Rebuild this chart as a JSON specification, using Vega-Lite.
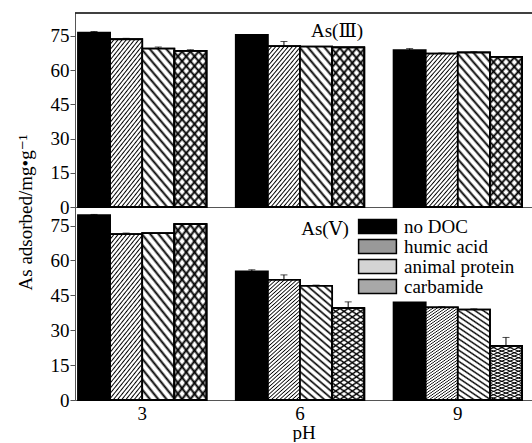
{
  "$schema": "https://vega.github.io/schema/vega-lite/v6.json",
  "padding": {"left": 16, "top": 12, "right": 0, "bottom": 0},
  "params": [
    {"name": "gH", "value": {"gradient": "linear", "x1": 0, "y1": 0, "x2": 0.281, "y2": 1.172, "stops": [
      {"offset": 0, "color": "#000"}, {"offset": 0.0075, "color": "#fff"}, {"offset": 0.0175, "color": "#fff"},
      {"offset": 0.025, "color": "#000"}, {"offset": 0.0325, "color": "#fff"}, {"offset": 0.0425, "color": "#fff"},
      {"offset": 0.05, "color": "#000"}, {"offset": 0.0575, "color": "#fff"}, {"offset": 0.0675, "color": "#fff"},
      {"offset": 0.075, "color": "#000"}, {"offset": 0.0825, "color": "#fff"}, {"offset": 0.0925, "color": "#fff"},
      {"offset": 0.1, "color": "#000"}, {"offset": 0.1075, "color": "#fff"}, {"offset": 0.1175, "color": "#fff"},
      {"offset": 0.125, "color": "#000"}, {"offset": 0.1325, "color": "#fff"}, {"offset": 0.1425, "color": "#fff"},
      {"offset": 0.15, "color": "#000"}, {"offset": 0.1575, "color": "#fff"}, {"offset": 0.1675, "color": "#fff"},
      {"offset": 0.175, "color": "#000"}, {"offset": 0.1825, "color": "#fff"}, {"offset": 0.1925, "color": "#fff"},
      {"offset": 0.2, "color": "#000"}, {"offset": 0.2075, "color": "#fff"}, {"offset": 0.2175, "color": "#fff"},
      {"offset": 0.225, "color": "#000"}, {"offset": 0.2325, "color": "#fff"}, {"offset": 0.2425, "color": "#fff"},
      {"offset": 0.25, "color": "#000"}, {"offset": 0.2575, "color": "#fff"}, {"offset": 0.2675, "color": "#fff"},
      {"offset": 0.275, "color": "#000"}, {"offset": 0.2825, "color": "#fff"}, {"offset": 0.2925, "color": "#fff"},
      {"offset": 0.3, "color": "#000"}, {"offset": 0.3075, "color": "#fff"}, {"offset": 0.3175, "color": "#fff"},
      {"offset": 0.325, "color": "#000"}, {"offset": 0.3325, "color": "#fff"}, {"offset": 0.3425, "color": "#fff"},
      {"offset": 0.35, "color": "#000"}, {"offset": 0.3575, "color": "#fff"}, {"offset": 0.3675, "color": "#fff"},
      {"offset": 0.375, "color": "#000"}, {"offset": 0.3825, "color": "#fff"}, {"offset": 0.3925, "color": "#fff"},
      {"offset": 0.4, "color": "#000"}, {"offset": 0.4075, "color": "#fff"}, {"offset": 0.4175, "color": "#fff"},
      {"offset": 0.425, "color": "#000"}, {"offset": 0.4325, "color": "#fff"}, {"offset": 0.4425, "color": "#fff"},
      {"offset": 0.45, "color": "#000"}, {"offset": 0.4575, "color": "#fff"}, {"offset": 0.4675, "color": "#fff"},
      {"offset": 0.475, "color": "#000"}, {"offset": 0.4825, "color": "#fff"}, {"offset": 0.4925, "color": "#fff"},
      {"offset": 0.5, "color": "#000"}, {"offset": 0.5075, "color": "#fff"}, {"offset": 0.5175, "color": "#fff"},
      {"offset": 0.525, "color": "#000"}, {"offset": 0.5325, "color": "#fff"}, {"offset": 0.5425, "color": "#fff"},
      {"offset": 0.55, "color": "#000"}, {"offset": 0.5575, "color": "#fff"}, {"offset": 0.5675, "color": "#fff"},
      {"offset": 0.575, "color": "#000"}, {"offset": 0.5825, "color": "#fff"}, {"offset": 0.5925, "color": "#fff"},
      {"offset": 0.6, "color": "#000"}, {"offset": 0.6075, "color": "#fff"}, {"offset": 0.6175, "color": "#fff"},
      {"offset": 0.625, "color": "#000"}, {"offset": 0.6325, "color": "#fff"}, {"offset": 0.6425, "color": "#fff"},
      {"offset": 0.65, "color": "#000"}, {"offset": 0.6575, "color": "#fff"}, {"offset": 0.6675, "color": "#fff"},
      {"offset": 0.675, "color": "#000"}, {"offset": 0.6825, "color": "#fff"}, {"offset": 0.6925, "color": "#fff"},
      {"offset": 0.7, "color": "#000"}, {"offset": 0.7075, "color": "#fff"}, {"offset": 0.7175, "color": "#fff"},
      {"offset": 0.725, "color": "#000"}, {"offset": 0.7325, "color": "#fff"}, {"offset": 0.7425, "color": "#fff"},
      {"offset": 0.75, "color": "#000"}, {"offset": 0.7575, "color": "#fff"}, {"offset": 0.7675, "color": "#fff"},
      {"offset": 0.775, "color": "#000"}, {"offset": 0.7825, "color": "#fff"}, {"offset": 0.7925, "color": "#fff"},
      {"offset": 0.8, "color": "#000"}, {"offset": 0.8075, "color": "#fff"}, {"offset": 0.8175, "color": "#fff"},
      {"offset": 0.825, "color": "#000"}, {"offset": 0.8325, "color": "#fff"}, {"offset": 0.8425, "color": "#fff"},
      {"offset": 0.85, "color": "#000"}, {"offset": 0.8575, "color": "#fff"}, {"offset": 0.8675, "color": "#fff"},
      {"offset": 0.875, "color": "#000"}, {"offset": 0.8825, "color": "#fff"}, {"offset": 0.8925, "color": "#fff"},
      {"offset": 0.9, "color": "#000"}, {"offset": 0.9075, "color": "#fff"}, {"offset": 0.9175, "color": "#fff"},
      {"offset": 0.925, "color": "#000"}, {"offset": 0.9325, "color": "#fff"}, {"offset": 0.9425, "color": "#fff"},
      {"offset": 0.95, "color": "#000"}, {"offset": 0.9575, "color": "#fff"}, {"offset": 0.9675, "color": "#fff"},
      {"offset": 0.975, "color": "#000"}, {"offset": 0.9825, "color": "#fff"}, {"offset": 0.9925, "color": "#fff"},
      {"offset": 1, "color": "#000"}
    ]}},
    {"name": "gB", "value": {"gradient": "linear", "x1": 1, "y1": 0, "x2": 0.719, "y2": 1.172, "stops": [
      {"offset": 0, "color": "#000"}, {"offset": 0.015, "color": "#fff"}, {"offset": 0.035, "color": "#fff"},
      {"offset": 0.05, "color": "#000"}, {"offset": 0.065, "color": "#fff"}, {"offset": 0.085, "color": "#fff"},
      {"offset": 0.1, "color": "#000"}, {"offset": 0.115, "color": "#fff"}, {"offset": 0.135, "color": "#fff"},
      {"offset": 0.15, "color": "#000"}, {"offset": 0.165, "color": "#fff"}, {"offset": 0.185, "color": "#fff"},
      {"offset": 0.2, "color": "#000"}, {"offset": 0.215, "color": "#fff"}, {"offset": 0.235, "color": "#fff"},
      {"offset": 0.25, "color": "#000"}, {"offset": 0.265, "color": "#fff"}, {"offset": 0.285, "color": "#fff"},
      {"offset": 0.3, "color": "#000"}, {"offset": 0.315, "color": "#fff"}, {"offset": 0.335, "color": "#fff"},
      {"offset": 0.35, "color": "#000"}, {"offset": 0.365, "color": "#fff"}, {"offset": 0.385, "color": "#fff"},
      {"offset": 0.4, "color": "#000"}, {"offset": 0.415, "color": "#fff"}, {"offset": 0.435, "color": "#fff"},
      {"offset": 0.45, "color": "#000"}, {"offset": 0.465, "color": "#fff"}, {"offset": 0.485, "color": "#fff"},
      {"offset": 0.5, "color": "#000"}, {"offset": 0.515, "color": "#fff"}, {"offset": 0.535, "color": "#fff"},
      {"offset": 0.55, "color": "#000"}, {"offset": 0.565, "color": "#fff"}, {"offset": 0.585, "color": "#fff"},
      {"offset": 0.6, "color": "#000"}, {"offset": 0.615, "color": "#fff"}, {"offset": 0.635, "color": "#fff"},
      {"offset": 0.65, "color": "#000"}, {"offset": 0.665, "color": "#fff"}, {"offset": 0.685, "color": "#fff"},
      {"offset": 0.7, "color": "#000"}, {"offset": 0.715, "color": "#fff"}, {"offset": 0.735, "color": "#fff"},
      {"offset": 0.75, "color": "#000"}, {"offset": 0.765, "color": "#fff"}, {"offset": 0.785, "color": "#fff"},
      {"offset": 0.8, "color": "#000"}, {"offset": 0.815, "color": "#fff"}, {"offset": 0.835, "color": "#fff"},
      {"offset": 0.85, "color": "#000"}, {"offset": 0.865, "color": "#fff"}, {"offset": 0.885, "color": "#fff"},
      {"offset": 0.9, "color": "#000"}, {"offset": 0.915, "color": "#fff"}, {"offset": 0.935, "color": "#fff"},
      {"offset": 0.95, "color": "#000"}, {"offset": 0.965, "color": "#fff"}, {"offset": 0.985, "color": "#fff"},
      {"offset": 1, "color": "#000"}
    ]}},
    {"name": "gX", "value": {"gradient": "linear", "x1": 0, "y1": 0, "x2": 0.281, "y2": 1.172, "stops": [
      {"offset": 0, "color": "rgba(0,0,0,1)"}, {"offset": 0.015, "color": "rgba(0,0,0,0)"}, {"offset": 0.035, "color": "rgba(0,0,0,0)"},
      {"offset": 0.05, "color": "rgba(0,0,0,1)"}, {"offset": 0.065, "color": "rgba(0,0,0,0)"}, {"offset": 0.085, "color": "rgba(0,0,0,0)"},
      {"offset": 0.1, "color": "rgba(0,0,0,1)"}, {"offset": 0.115, "color": "rgba(0,0,0,0)"}, {"offset": 0.135, "color": "rgba(0,0,0,0)"},
      {"offset": 0.15, "color": "rgba(0,0,0,1)"}, {"offset": 0.165, "color": "rgba(0,0,0,0)"}, {"offset": 0.185, "color": "rgba(0,0,0,0)"},
      {"offset": 0.2, "color": "rgba(0,0,0,1)"}, {"offset": 0.215, "color": "rgba(0,0,0,0)"}, {"offset": 0.235, "color": "rgba(0,0,0,0)"},
      {"offset": 0.25, "color": "rgba(0,0,0,1)"}, {"offset": 0.265, "color": "rgba(0,0,0,0)"}, {"offset": 0.285, "color": "rgba(0,0,0,0)"},
      {"offset": 0.3, "color": "rgba(0,0,0,1)"}, {"offset": 0.315, "color": "rgba(0,0,0,0)"}, {"offset": 0.335, "color": "rgba(0,0,0,0)"},
      {"offset": 0.35, "color": "rgba(0,0,0,1)"}, {"offset": 0.365, "color": "rgba(0,0,0,0)"}, {"offset": 0.385, "color": "rgba(0,0,0,0)"},
      {"offset": 0.4, "color": "rgba(0,0,0,1)"}, {"offset": 0.415, "color": "rgba(0,0,0,0)"}, {"offset": 0.435, "color": "rgba(0,0,0,0)"},
      {"offset": 0.45, "color": "rgba(0,0,0,1)"}, {"offset": 0.465, "color": "rgba(0,0,0,0)"}, {"offset": 0.485, "color": "rgba(0,0,0,0)"},
      {"offset": 0.5, "color": "rgba(0,0,0,1)"}, {"offset": 0.515, "color": "rgba(0,0,0,0)"}, {"offset": 0.535, "color": "rgba(0,0,0,0)"},
      {"offset": 0.55, "color": "rgba(0,0,0,1)"}, {"offset": 0.565, "color": "rgba(0,0,0,0)"}, {"offset": 0.585, "color": "rgba(0,0,0,0)"},
      {"offset": 0.6, "color": "rgba(0,0,0,1)"}, {"offset": 0.615, "color": "rgba(0,0,0,0)"}, {"offset": 0.635, "color": "rgba(0,0,0,0)"},
      {"offset": 0.65, "color": "rgba(0,0,0,1)"}, {"offset": 0.665, "color": "rgba(0,0,0,0)"}, {"offset": 0.685, "color": "rgba(0,0,0,0)"},
      {"offset": 0.7, "color": "rgba(0,0,0,1)"}, {"offset": 0.715, "color": "rgba(0,0,0,0)"}, {"offset": 0.735, "color": "rgba(0,0,0,0)"},
      {"offset": 0.75, "color": "rgba(0,0,0,1)"}, {"offset": 0.765, "color": "rgba(0,0,0,0)"}, {"offset": 0.785, "color": "rgba(0,0,0,0)"},
      {"offset": 0.8, "color": "rgba(0,0,0,1)"}, {"offset": 0.815, "color": "rgba(0,0,0,0)"}, {"offset": 0.835, "color": "rgba(0,0,0,0)"},
      {"offset": 0.85, "color": "rgba(0,0,0,1)"}, {"offset": 0.865, "color": "rgba(0,0,0,0)"}, {"offset": 0.885, "color": "rgba(0,0,0,0)"},
      {"offset": 0.9, "color": "rgba(0,0,0,1)"}, {"offset": 0.915, "color": "rgba(0,0,0,0)"}, {"offset": 0.935, "color": "rgba(0,0,0,0)"},
      {"offset": 0.95, "color": "rgba(0,0,0,1)"}, {"offset": 0.965, "color": "rgba(0,0,0,0)"}, {"offset": 0.985, "color": "rgba(0,0,0,0)"},
      {"offset": 1, "color": "rgba(0,0,0,1)"}
    ]}},
    {"name": "lgH", "value": {"gradient": "linear", "x1": 0, "y1": 0, "x2": 1.205, "y2": 0.446, "stops": [
      {"offset": 0, "color": "#000"}, {"offset": 0.03, "color": "#fff"}, {"offset": 0.07, "color": "#fff"},
      {"offset": 0.1, "color": "#000"}, {"offset": 0.13, "color": "#fff"}, {"offset": 0.17, "color": "#fff"},
      {"offset": 0.2, "color": "#000"}, {"offset": 0.23, "color": "#fff"}, {"offset": 0.27, "color": "#fff"},
      {"offset": 0.3, "color": "#000"}, {"offset": 0.33, "color": "#fff"}, {"offset": 0.37, "color": "#fff"},
      {"offset": 0.4, "color": "#000"}, {"offset": 0.43, "color": "#fff"}, {"offset": 0.47, "color": "#fff"},
      {"offset": 0.5, "color": "#000"}, {"offset": 0.53, "color": "#fff"}, {"offset": 0.57, "color": "#fff"},
      {"offset": 0.6, "color": "#000"}, {"offset": 0.63, "color": "#fff"}, {"offset": 0.67, "color": "#fff"},
      {"offset": 0.7, "color": "#000"}, {"offset": 0.73, "color": "#fff"}, {"offset": 0.77, "color": "#fff"},
      {"offset": 0.8, "color": "#000"}, {"offset": 0.83, "color": "#fff"}, {"offset": 0.87, "color": "#fff"},
      {"offset": 0.9, "color": "#000"}, {"offset": 0.93, "color": "#fff"}, {"offset": 0.97, "color": "#fff"},
      {"offset": 1, "color": "#000"}
    ]}},
    {"name": "lgB", "value": {"gradient": "linear", "x1": 1, "y1": 0, "x2": -0.205, "y2": 0.446, "stops": [
      {"offset": 0, "color": "#000"}, {"offset": 0.06, "color": "#fff"}, {"offset": 0.14, "color": "#fff"},
      {"offset": 0.2, "color": "#000"}, {"offset": 0.26, "color": "#fff"}, {"offset": 0.34, "color": "#fff"},
      {"offset": 0.4, "color": "#000"}, {"offset": 0.46, "color": "#fff"}, {"offset": 0.54, "color": "#fff"},
      {"offset": 0.6, "color": "#000"}, {"offset": 0.66, "color": "#fff"}, {"offset": 0.74, "color": "#fff"},
      {"offset": 0.8, "color": "#000"}, {"offset": 0.86, "color": "#fff"}, {"offset": 0.94, "color": "#fff"},
      {"offset": 1, "color": "#000"}
    ]}}
  ],
  "config": {
    "font": "Times New Roman, Liberation Serif, DejaVu Serif, serif",
    "view": {"stroke": null},
    "axis": {"labelColor": "black", "titleColor": "black", "domainColor": "#555", "tickColor": "#555", "grid": false, "labelFontSize": 19, "titleFontSize": 19, "titleFontWeight": "normal", "labelOverlap": false}
  },
  "bounds": "flush",
  "spacing": 0,
  "datasets": {
    "d": [
      {"panel": "III", "pH": "3", "DOC": "no DOC", "v": 76.4, "hi": 76.9},
      {"panel": "III", "pH": "3", "DOC": "humic acid", "v": 73.5, "hi": 73.9},
      {"panel": "III", "pH": "3", "DOC": "animal protein", "v": 69.4, "hi": 70.1},
      {"panel": "III", "pH": "3", "DOC": "carbamide", "v": 68.4, "hi": 68.9},
      {"panel": "III", "pH": "6", "DOC": "no DOC", "v": 75.4, "hi": null},
      {"panel": "III", "pH": "6", "DOC": "humic acid", "v": 70.5, "hi": 72.5},
      {"panel": "III", "pH": "6", "DOC": "animal protein", "v": 70.3, "hi": null},
      {"panel": "III", "pH": "6", "DOC": "carbamide", "v": 69.9, "hi": null},
      {"panel": "III", "pH": "9", "DOC": "no DOC", "v": 68.7, "hi": 69.4},
      {"panel": "III", "pH": "9", "DOC": "humic acid", "v": 67.2, "hi": 67.5},
      {"panel": "III", "pH": "9", "DOC": "animal protein", "v": 67.7, "hi": 68.0},
      {"panel": "III", "pH": "9", "DOC": "carbamide", "v": 65.8, "hi": null},
      {"panel": "V", "pH": "3", "DOC": "no DOC", "v": 79.5, "hi": 79.8},
      {"panel": "V", "pH": "3", "DOC": "humic acid", "v": 71.3, "hi": 71.8},
      {"panel": "V", "pH": "3", "DOC": "animal protein", "v": 71.8, "hi": null},
      {"panel": "V", "pH": "3", "DOC": "carbamide", "v": 75.6, "hi": null},
      {"panel": "V", "pH": "6", "DOC": "no DOC", "v": 55.3, "hi": 56.0},
      {"panel": "V", "pH": "6", "DOC": "humic acid", "v": 51.7, "hi": 53.8},
      {"panel": "V", "pH": "6", "DOC": "animal protein", "v": 49.1, "hi": 49.4},
      {"panel": "V", "pH": "6", "DOC": "carbamide", "v": 39.5, "hi": 42.2},
      {"panel": "V", "pH": "9", "DOC": "no DOC", "v": 42.0, "hi": null},
      {"panel": "V", "pH": "9", "DOC": "humic acid", "v": 39.8, "hi": 40.1},
      {"panel": "V", "pH": "9", "DOC": "animal protein", "v": 38.9, "hi": 39.2},
      {"panel": "V", "pH": "9", "DOC": "carbamide", "v": 23.3, "hi": 26.9}
    ]
  },
  "vconcat": [
    {
      "width": 457,
      "height": 194,
      "data": {"name": "d"},
      "transform": [{"filter": "datum.panel === 'III'"}],
      "resolve": {"axis": {"y": "independent"}},
      "layer": [
        {
          "mark": {"type": "bar", "stroke": "black", "strokeWidth": 1.8},
          "encoding": {
            "x": {"field": "pH", "type": "nominal", "scale": {"type": "band", "paddingInner": 0.186, "paddingOuter": 0.041, "align": 0.23}, "axis": {"labels": false, "ticks": false, "title": null}},
            "xOffset": {"field": "DOC", "type": "nominal", "sort": ["no DOC", "humic acid", "animal protein", "carbamide"], "scale": {"paddingInner": 0, "paddingOuter": 0}},
            "y": {"field": "v", "type": "quantitative", "scale": {"domain": [0, 85], "nice": false}, "axis": {"values": [0, 15, 30, 45, 60, 75], "labelOverlap": false, "tickSize": 5, "labelPadding": 1, "title": "As adsorbed/mg•g⁻¹", "titleX": -50, "titleY": 199, "titleAlign": "center", "titleBaseline": "middle", "titleAngle": -90}},
            "fill": {"field": "DOC", "type": "nominal",
              "scale": {"domain": ["no DOC", "humic acid", "animal protein", "carbamide"], "range": ["#000000", "#999999", "#d4d4d4", "#a8a8a8"]},
              "legend": {"orient": "none", "legendX": 293, "legendY": 204, "title": null, "symbolType": "M-2.7,-1H2.7V1H-2.7Z", "symbolSize": 196, "symbolStrokeColor": "black", "symbolStrokeWidth": 1.5, "labelFontSize": 19, "labelColor": "black", "rowPadding": -1, "labelOffset": 17,
                "encoding": {"symbols": {"update": {"fill": {"signal": "datum.value === 'humic acid' ? lgH : datum.value === 'animal protein' ? lgB : datum.value === 'carbamide' ? '#a8a8a8' : '#000'"}}}}}}
          }
        },
        {
          "transform": [{"filter": "datum.DOC === 'humic acid'"}],
          "mark": {"type": "bar", "fill": {"expr": "gH"}, "stroke": "black", "strokeWidth": 1.8},
          "encoding": {
            "x": {"field": "pH", "type": "nominal"},
            "xOffset": {"field": "DOC", "type": "nominal", "sort": ["no DOC", "humic acid", "animal protein", "carbamide"]},
            "y": {"field": "v", "type": "quantitative", "axis": null}
          }
        },
        {
          "transform": [{"filter": "datum.DOC === 'animal protein' || datum.DOC === 'carbamide'"}],
          "mark": {"type": "bar", "fill": {"expr": "gB"}, "stroke": "black", "strokeWidth": 1.8},
          "encoding": {
            "x": {"field": "pH", "type": "nominal"},
            "xOffset": {"field": "DOC", "type": "nominal", "sort": ["no DOC", "humic acid", "animal protein", "carbamide"]},
            "y": {"field": "v", "type": "quantitative", "axis": null}
          }
        },
        {
          "transform": [{"filter": "datum.DOC === 'carbamide'"}],
          "mark": {"type": "bar", "fill": {"expr": "gX"}, "stroke": "black", "strokeWidth": 1.8},
          "encoding": {
            "x": {"field": "pH", "type": "nominal"},
            "xOffset": {"field": "DOC", "type": "nominal", "sort": ["no DOC", "humic acid", "animal protein", "carbamide"]},
            "y": {"field": "v", "type": "quantitative", "axis": null}
          }
        },
        {
          "transform": [{"filter": "datum.hi != null"}],
          "mark": {"type": "rule", "color": "black", "strokeWidth": 1},
          "encoding": {
            "x": {"field": "pH", "type": "nominal"},
            "xOffset": {"field": "DOC", "type": "nominal", "sort": ["no DOC", "humic acid", "animal protein", "carbamide"]},
            "y": {"field": "v", "type": "quantitative", "axis": null},
            "y2": {"field": "hi"}
          }
        },
        {
          "transform": [{"filter": "datum.hi != null"}],
          "mark": {"type": "tick", "color": "black", "size": 7, "thickness": 1},
          "encoding": {
            "x": {"field": "pH", "type": "nominal"},
            "xOffset": {"field": "DOC", "type": "nominal", "sort": ["no DOC", "humic acid", "animal protein", "carbamide"]},
            "y": {"field": "hi", "type": "quantitative", "axis": null}
          }
        },
        {
          "data": {"values": [{}]},
          "mark": {"type": "rule", "color": "black", "strokeWidth": 1.3},
          "encoding": {"y": {"datum": 85, "axis": null}}
        },
        {
          "data": {"values": [{}]},
          "mark": {"type": "text", "text": "As(Ⅲ)", "font": "Times New Roman, DejaVu Serif, serif", "fontSize": 19, "align": "center", "baseline": "middle", "dx": 37, "color": "black"},
          "encoding": {"x": {"datum": "6"}, "y": {"datum": 77, "axis": null}}
        }
      ]
    },
    {
      "width": 457,
      "height": 193,
      "data": {"name": "d"},
      "transform": [{"filter": "datum.panel === 'V'"}],
      "resolve": {"axis": {"y": "independent"}},
      "layer": [
        {
          "mark": {"type": "bar", "stroke": "black", "strokeWidth": 1.8},
          "encoding": {
            "x": {"field": "pH", "type": "nominal", "scale": {"type": "band", "paddingInner": 0.186, "paddingOuter": 0.041, "align": 0.23}, "axis": {"labelAngle": 0, "ticks": false, "labelPadding": 4, "title": "pH", "titlePadding": 0}},
            "xOffset": {"field": "DOC", "type": "nominal", "sort": ["no DOC", "humic acid", "animal protein", "carbamide"], "scale": {"paddingInner": 0, "paddingOuter": 0}},
            "y": {"field": "v", "type": "quantitative", "scale": {"domain": [0, 83], "nice": false}, "axis": {"values": [0, 15, 30, 45, 60, 75], "labelOverlap": false, "tickSize": 5, "labelPadding": 1, "title": null}},
            "fill": {"field": "DOC", "type": "nominal",
              "legend": {"orient": "none", "legendX": 293, "legendY": 204, "title": null, "symbolType": "M-2.7,-1H2.7V1H-2.7Z", "symbolSize": 196, "symbolStrokeColor": "black", "symbolStrokeWidth": 1.5, "labelFontSize": 19, "labelColor": "black", "rowPadding": -1, "labelOffset": 17,
                "encoding": {"symbols": {"update": {"fill": {"signal": "datum.value === 'humic acid' ? lgH : datum.value === 'animal protein' ? lgB : datum.value === 'carbamide' ? '#a8a8a8' : '#000'"}}}}}}
          }
        },
        {
          "transform": [{"filter": "datum.DOC === 'humic acid'"}],
          "mark": {"type": "bar", "fill": {"expr": "gH"}, "stroke": "black", "strokeWidth": 1.8},
          "encoding": {
            "x": {"field": "pH", "type": "nominal"},
            "xOffset": {"field": "DOC", "type": "nominal", "sort": ["no DOC", "humic acid", "animal protein", "carbamide"]},
            "y": {"field": "v", "type": "quantitative", "axis": null}
          }
        },
        {
          "transform": [{"filter": "datum.DOC === 'animal protein' || datum.DOC === 'carbamide'"}],
          "mark": {"type": "bar", "fill": {"expr": "gB"}, "stroke": "black", "strokeWidth": 1.8},
          "encoding": {
            "x": {"field": "pH", "type": "nominal"},
            "xOffset": {"field": "DOC", "type": "nominal", "sort": ["no DOC", "humic acid", "animal protein", "carbamide"]},
            "y": {"field": "v", "type": "quantitative", "axis": null}
          }
        },
        {
          "transform": [{"filter": "datum.DOC === 'carbamide'"}],
          "mark": {"type": "bar", "fill": {"expr": "gX"}, "stroke": "black", "strokeWidth": 1.8},
          "encoding": {
            "x": {"field": "pH", "type": "nominal"},
            "xOffset": {"field": "DOC", "type": "nominal", "sort": ["no DOC", "humic acid", "animal protein", "carbamide"]},
            "y": {"field": "v", "type": "quantitative", "axis": null}
          }
        },
        {
          "transform": [{"filter": "datum.hi != null"}],
          "mark": {"type": "rule", "color": "black", "strokeWidth": 1},
          "encoding": {
            "x": {"field": "pH", "type": "nominal"},
            "xOffset": {"field": "DOC", "type": "nominal", "sort": ["no DOC", "humic acid", "animal protein", "carbamide"]},
            "y": {"field": "v", "type": "quantitative", "axis": null},
            "y2": {"field": "hi"}
          }
        },
        {
          "transform": [{"filter": "datum.hi != null"}],
          "mark": {"type": "tick", "color": "black", "size": 7, "thickness": 1},
          "encoding": {
            "x": {"field": "pH", "type": "nominal"},
            "xOffset": {"field": "DOC", "type": "nominal", "sort": ["no DOC", "humic acid", "animal protein", "carbamide"]},
            "y": {"field": "hi", "type": "quantitative", "axis": null}
          }
        },
        {
          "data": {"values": [{}]},
          "mark": {"type": "text", "text": "As(Ⅴ)", "font": "Times New Roman, DejaVu Serif, serif", "fontSize": 19, "align": "center", "baseline": "middle", "dx": 25, "color": "black"},
          "encoding": {"x": {"datum": "6"}, "y": {"datum": 73.6, "axis": null}}
        }
      ]
    }
  ]
}
